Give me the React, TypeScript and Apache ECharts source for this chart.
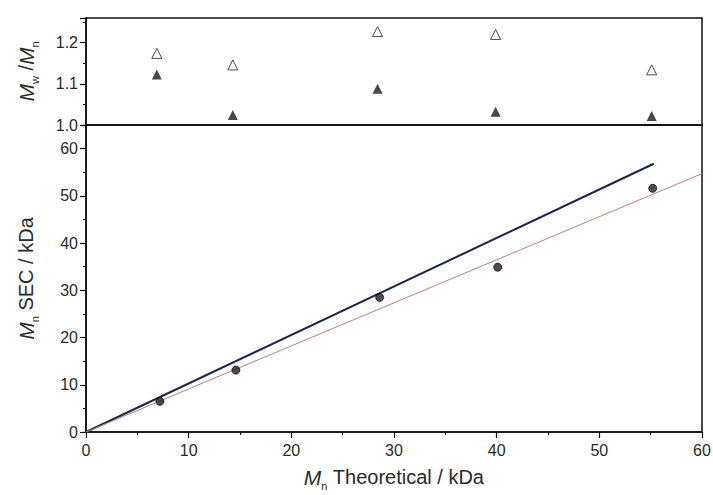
import React, { useEffect, useRef } from "react";
import * as echarts from "echarts";

const mnTheoretical = [7.2, 14.6, 28.6, 40.1, 55.2];
const mnSec = [6.5, 13.1, 28.5, 34.9, 51.6];
const triX = [6.9, 14.3, 28.4, 39.9, 55.1];
const dispersityOpen = [1.174, 1.146, 1.227, 1.22, 1.134];
const dispersityFilled = [1.123, 1.024, 1.088, 1.032, 1.022];
const idealLine = [[0, 0], [55.3, 56.8]];
const fitLine = [[0, 0], [60, 54.7]];

const FONT = "'Liberation Sans', Arial, sans-serif";

export default function App() {
  const ref = useRef<HTMLDivElement>(null);
  useEffect(() => {
    if (!ref.current) return;
    const chart = echarts.init(ref.current, undefined, { renderer: "svg" });
    const axisLine = { show: true, onZero: false, lineStyle: { color: "#111", width: 1.5 } };
    const axisLabel = { color: "#2a2a2a", fontSize: 16, fontFamily: FONT };
    const axisTick = { show: true, inside: false, length: 6, lineStyle: { color: "#111", width: 1.2 } };
    const minorTick = { show: true, splitNumber: 2, length: 3, lineStyle: { color: "#111", width: 1 } };
    const rich = {
      i: { fontStyle: "italic", fontSize: 21, lineHeight: 28, color: "#2a2a2a", fontFamily: FONT, verticalAlign: "middle" },
      s: { fontSize: 11, lineHeight: 10, color: "#2a2a2a", fontFamily: FONT, verticalAlign: "bottom" },
      t: { fontSize: 20, lineHeight: 28, color: "#2a2a2a", fontFamily: FONT, verticalAlign: "middle" },
    };
    chart.setOption({
      animation: false,
      backgroundColor: "#fff",
      grid: [
        { left: 86, right: 11, top: 18, height: 107, show: true, borderColor: "#111", borderWidth: 1.5, backgroundColor: "transparent", containLabel: false, outerBoundsMode: "none" },
        { left: 86, right: 11, top: 125, height: 307, show: true, borderColor: "#111", borderWidth: 1.5, backgroundColor: "transparent", containLabel: false, outerBoundsMode: "none" },
      ],
      xAxis: [
        {
          gridIndex: 0, type: "value", min: 0, max: 60, interval: 10,
          axisLine, axisLabel: { show: false }, axisTick: { show: false }, splitLine: { show: false },
        },
        {
          gridIndex: 1, type: "value", min: 0, max: 60, interval: 10,
          axisLine, axisLabel: { ...axisLabel, margin: 10 }, axisTick, minorTick, splitLine: { show: false },
          name: "{i|M}{s|n}{t| Theoretical / kDa}", nameLocation: "middle", nameGap: 31,
          nameTextStyle: { rich },
        },
      ],
      yAxis: [
        {
          gridIndex: 0, type: "value", min: 1.0, max: 1.26, interval: 0.1,
          axisLine, axisLabel: { ...axisLabel, showMaxLabel: false, formatter: (v: number) => v.toFixed(1) },
          axisTick, minorTick, splitLine: { show: false },
          name: "{i|M}{s|w}{t| /}{i|M}{s|n}", nameLocation: "middle", nameGap: 46, nameRotate: 90,
          nameTextStyle: { rich },
        },
        {
          gridIndex: 1, type: "value", min: 0, max: 65, interval: 10,
          axisLine, axisLabel: { ...axisLabel, showMaxLabel: false }, axisTick, minorTick, splitLine: { show: false },
          name: "{i|M}{s|n}{t| SEC / kDa}", nameLocation: "middle", nameGap: 46, nameRotate: 90,
          nameTextStyle: { rich },
        },
      ],
      series: [
        {
          type: "scatter", xAxisIndex: 0, yAxisIndex: 0, symbol: "triangle", symbolSize: 10,
          itemStyle: { color: "#fff", borderColor: "#222", borderWidth: 1 },
          data: triX.map((x, i) => [x, dispersityOpen[i]]),
        },
        {
          type: "scatter", xAxisIndex: 0, yAxisIndex: 0, symbol: "triangle", symbolSize: 10,
          itemStyle: { color: "#1a1a1a" },
          data: triX.map((x, i) => [x, dispersityFilled[i]]),
        },
        {
          type: "line", xAxisIndex: 1, yAxisIndex: 1, showSymbol: false, symbol: "none",
          lineStyle: { color: "#1e2444", width: 2 }, data: idealLine, z: 2,
        },
        {
          type: "line", xAxisIndex: 1, yAxisIndex: 1, showSymbol: false, symbol: "none",
          lineStyle: { color: "#b98080", width: 1 }, data: fitLine, z: 2,
        },
        {
          type: "scatter", xAxisIndex: 1, yAxisIndex: 1, symbol: "circle", symbolSize: 8,
          itemStyle: { color: "#241c24", borderColor: "#111", borderWidth: 1 },
          data: mnTheoretical.map((x, i) => [x, mnSec[i]]), z: 3,
        },
      ],
    });
    return () => chart.dispose();
  }, []);
  return <div ref={ref} style={{ width: 713, height: 495, position: "absolute", left: 0, top: 0 }} />;
}
